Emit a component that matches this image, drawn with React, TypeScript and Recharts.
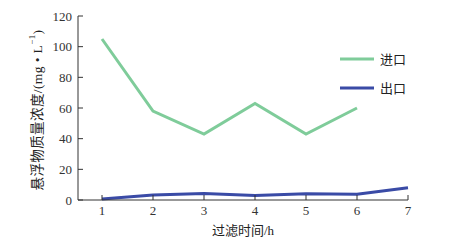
import { LineChart, Line, XAxis, YAxis } from 'recharts'

const hours = [1, 2, 3, 4, 5, 6, 7]
const inlet = [105, 58, 43, 63, 43, 60, null]
const outlet = [0.7, 3.3, 4.3, 3, 4, 3.7, 8]
const yTicks = [0, 20, 40, 60, 80, 100, 120]

const GREEN = '#7fcc9a'
const BLUE = '#3a4ba6'
const AXIS = '#333'
const FONT = '"Liberation Serif", "Noto Sans CJK SC", serif'

const data = hours.map((h, i) => ({ h, inlet: inlet[i], outlet: outlet[i] }))

function YTick({ x, y, payload }: any) {
  return (
    <g>
      <line x1={x + 6} x2={x + 11} y1={y} y2={y} stroke={AXIS} strokeWidth={1} />
      <text x={x} y={y} dy="0.35em" textAnchor="end" fill="#333" fontSize={13} fontFamily={FONT}>
        {payload.value}
      </text>
    </g>
  )
}

function XTick({ x, y, payload }: any) {
  return (
    <g>
      <line x1={x} x2={x} y1={y - 5} y2={y - 10} stroke={AXIS} strokeWidth={1} />
      <text x={x} y={y + 10} textAnchor="middle" fill="#333" fontSize={13} fontFamily={FONT}>
        {payload.value}
      </text>
    </g>
  )
}

function LegendBox() {
  const items = [
    { name: '进口', color: GREEN },
    { name: '出口', color: BLUE },
  ]
  return (
    <svg width={80} height={60} style={{ position: 'absolute', left: 340, top: 51 }}>
      {items.map((it, i) => (
        <g key={it.name}>
          <line x1={0} x2={34} y1={8 + i * 29} y2={8 + i * 29} stroke={it.color} strokeWidth={3} />
          <text x={40} y={8 + i * 29} dy="0.35em" fontSize={13} fill="#222" fontFamily={FONT}>
            {it.name}
          </text>
        </g>
      ))}
    </svg>
  )
}

export default function App() {
  return (
    <div style={{ position: 'absolute', left: 0, top: 0, width: 450, height: 240, background: '#fff' }}>
      <LineChart width={450} height={240} data={data} margin={{ top: 16, right: 42, bottom: 10, left: 38 }}>
        <XAxis
          dataKey="h"
          type="number"
          domain={[1, 7]}
          ticks={hours}
          padding={{ left: 24, right: 0 }}
          height={30}
          tickSize={0}
          tickMargin={5}
          tickLine={false}
          axisLine={{ stroke: AXIS }}
          tick={<XTick />}
          label={{
            value: '过滤时间/h',
            position: 'insideBottom',
            offset: -5,
            fill: '#222',
            fontSize: 13,
            fontFamily: FONT,
          }}
        />
        <YAxis
          domain={[0, 120]}
          ticks={yTicks}
          width={40}
          tickSize={0}
          tickMargin={6}
          tickLine={false}
          axisLine={{ stroke: AXIS }}
          tick={<YTick />}
          label={() => (
            <text
              x={37}
              y={110}
              transform="rotate(-90 37 110)"
              textAnchor="middle"
              dominantBaseline="central"
              fontSize={13.5}
              fill="#222"
              fontFamily={FONT}
              letterSpacing={0.4}
            >
              悬浮物质量浓度/(mg • L
              <tspan dy={-5} fontSize={9}>−1</tspan>
              <tspan dy={5}>)</tspan>
            </text>
          )}
        />
        <Line
          dataKey="inlet"
          stroke={GREEN}
          strokeWidth={3}
          dot={false}
          type="linear"
          isAnimationActive={false}
        />
        <Line
          dataKey="outlet"
          stroke={BLUE}
          strokeWidth={3}
          dot={false}
          type="linear"
          isAnimationActive={false}
        />
      </LineChart>
      <LegendBox />
    </div>
  )
}
